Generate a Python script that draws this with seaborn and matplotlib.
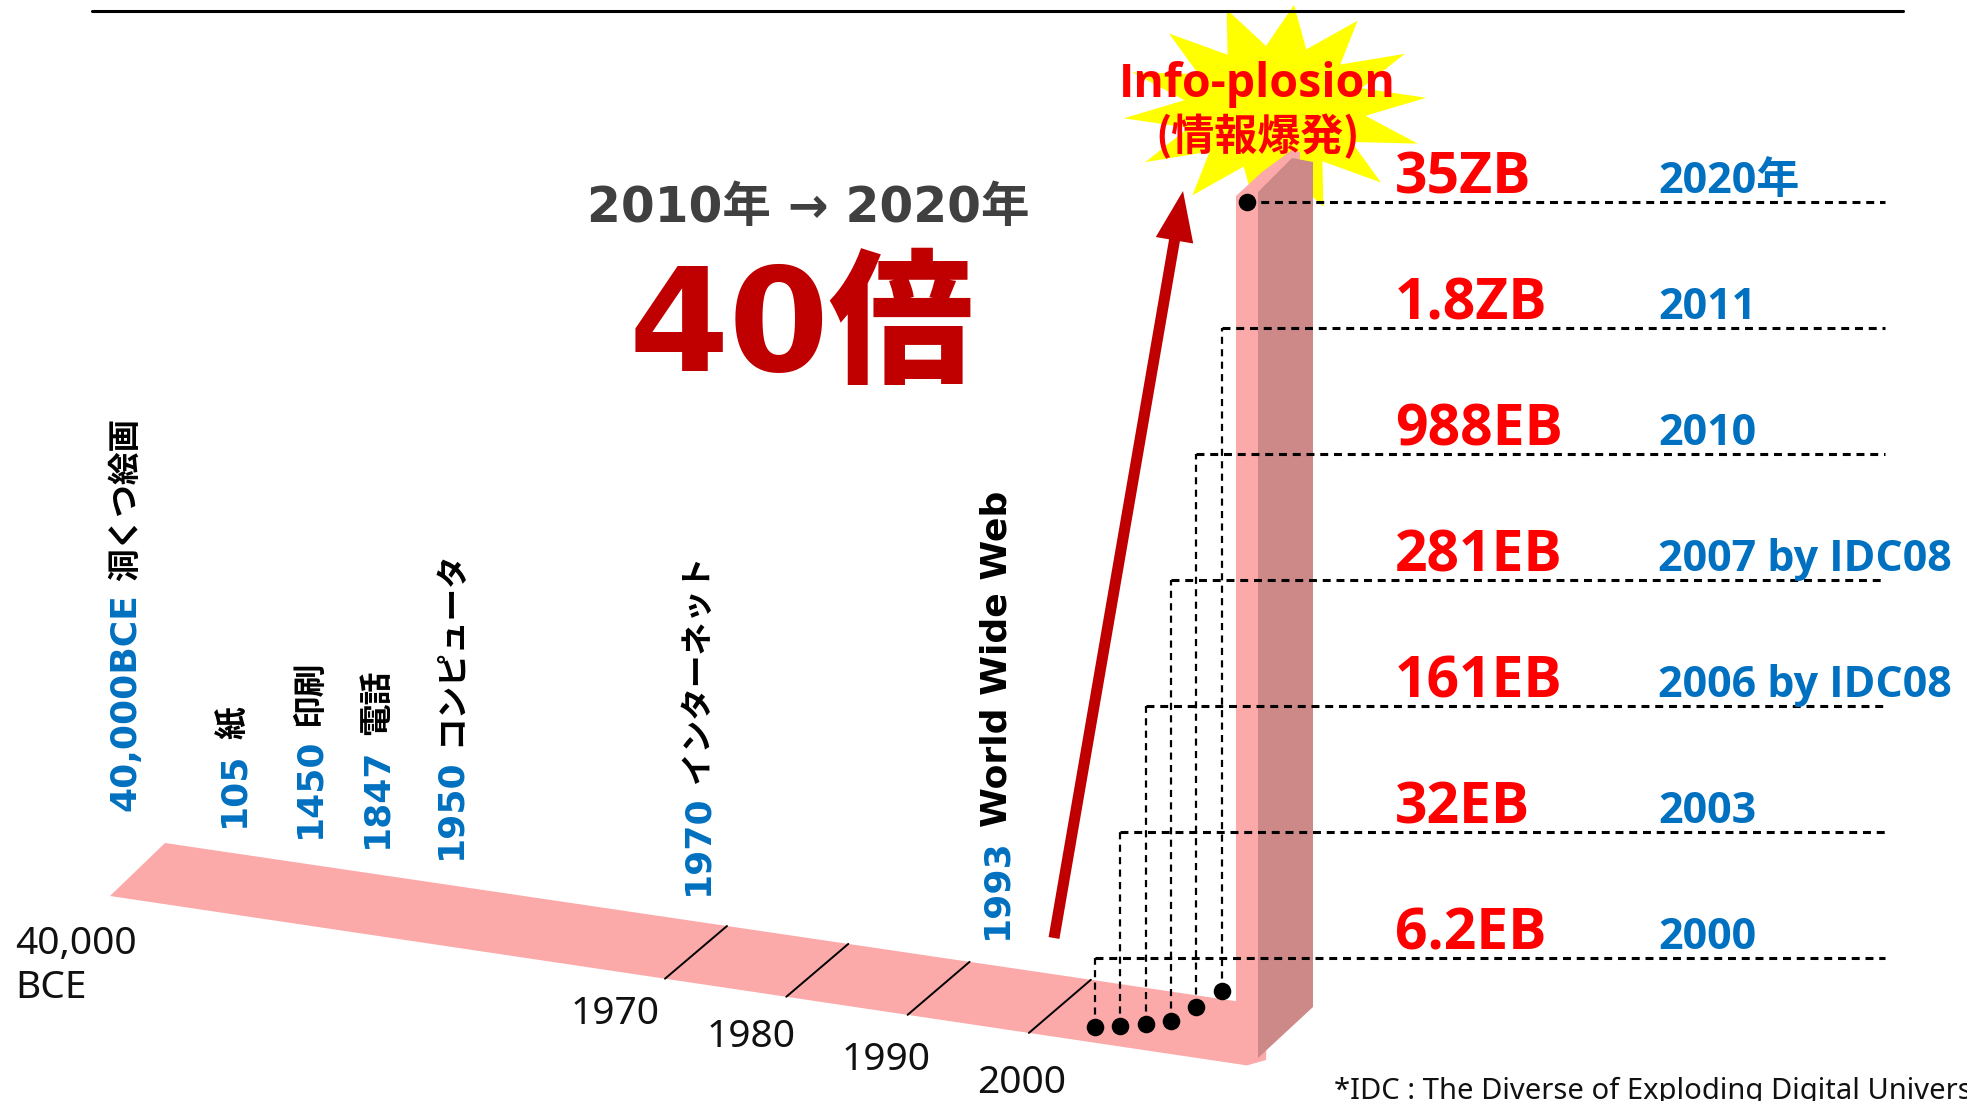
import numpy as np
import matplotlib
matplotlib.use("Agg")
import matplotlib.pyplot as plt
import seaborn as sns
import pandas as pd
from matplotlib.patches import Polygon, FancyArrow

# ---------------- data ----------------
event_years = ["40,000BCE", "105", "1450", "1847", "1950", "1970", "1993"]
event_year_num = [-40000, 105, 1450, 1847, 1950, 1970, 1993]
event_names = ["洞くつ絵画", "紙", "印刷", "電話", "コンピュータ", "インターネット", "World Wide Web"]
decade_ticks = [1970, 1980, 1990, 2000]
start_label = "40,000\nBCE"
data_years = ["2000", "2003", "2006 by IDC08", "2007 by IDC08", "2010", "2011", "2020年"]
data_values_eb = [6.2, 32, 161, 281, 988, 1800, 35000]
data_value_labels = ["6.2EB", "32EB", "161EB", "281EB", "988EB", "1.8ZB", "35ZB"]
headline_period = "2010年 → 2020年"
headline_factor = "40倍"
burst_title = "Info-plosion"
burst_sub = "(情報爆発)"
footnote = "*IDC : The Diverse of Exploding Digital Universe"

# ---------------- style ----------------
sns.set_theme(style="white")
plt.rcParams["font.family"] = ["Noto Sans", "Noto Sans CJK JP", "DejaVu Sans"]
VERDANA = ["DejaVu Sans", "Noto Sans CJK JP"]
NOTO = ["Noto Sans", "Noto Sans CJK JP"]
BOLDF = ["Open Sans", "Noto Sans CJK JP"]
CJK = ["Noto Sans CJK JP", "DejaVu Sans"]
BLUE = "#0070C0"
RED = "#FF0000"
DARKRED = "#C00000"
PINK = "#FCA9A9"
PINK_DARK = "#CD8888"

W, H = 1967, 1101
fig = plt.figure(figsize=(W / 100, H / 100), dpi=100)
ax = fig.add_axes([0, 0, 1, 1])
ax.set_xlim(0, W)
ax.set_ylim(H, 0)
ax.set_autoscale_on(False)
ax.axis("off")

# ---------------- layout scales ----------------
# broken timeline scale (year -> x of label column)
TL_YEARS = [-40000, 105, 1450, 1847, 1950, 1970, 2000]
TL_X = [122, 230, 306, 373, 447, 694, 1085]


def tl_x(year):
    return np.interp(year, TL_YEARS, TL_X)


def band_top(x):
    return 843 + (np.asarray(x) - 165) * 0.1477


def band_bot(x):
    return 896 + (np.asarray(x) - 110) * 0.149


def decade_x(year):
    return 665 + (np.asarray(year) - 1970) * 12.13


COL_X0, COL_X1, COL_X2 = 1236, 1258, 1313
X_RIGHT = 1885
LINE_BASE, LINE_STEP = 958, 126
DOT_X0, DOT_STEP = 1095, 25.3
DOT_BASE, DOT_K = 1027, 0.02

# ---------------- starburst (behind column) ----------------
n_sp = 14
ang = np.linspace(0, 2 * np.pi, 2 * n_sp, endpoint=False) + 0.35
rad = np.where(np.arange(2 * n_sp) % 2 == 0, 1.0, 0.6)
sx = 1275 + 152 * rad * np.cos(ang)
sy = 108 + 104 * rad * np.sin(ang)
ax.add_patch(Polygon(np.column_stack([sx, sy]), closed=True, fc="#FFFF00", ec="none", zorder=1))

# ---------------- floor band + column ----------------
floor_light = [(165, band_top(165)), (COL_X0, band_top(COL_X0)), (COL_X0, 196),
               (1262, 172), (1292, 150), (1300, 152), (1266, 1060), (1247, band_bot(1247)),
               (110, band_bot(110))]
ax.add_patch(Polygon(floor_light, closed=True, fc=PINK, ec="none", zorder=2))
col_dark = [(COL_X1, 1058), (COL_X1, 192), (1292, 158), (COL_X2, 162), (COL_X2, 1007)]
ax.add_patch(Polygon(col_dark, closed=True, fc=PINK_DARK, ec="none", zorder=2))

# decade ticks on the floor
for yr in decade_ticks:
    xb = decade_x(yr)
    xt = xb + 62
    ax.plot([xb, xt], [band_bot(xb), band_top(xt)], color="black", lw=1.4, zorder=3)
    d = yr - 1970
    ax.text(615 + d * 13.57, 1014 + d * 2.3, str(yr), ha="center", va="center",
            fontsize=28, family=NOTO, color="#111111", zorder=4)
ax.text(15, 966, start_label, ha="left", va="center", fontsize=28, family=NOTO,
        color="#111111", linespacing=1.2, zorder=4)

# ---------------- data points and leader lines ----------------
n = len(data_values_eb)
idx = np.arange(n)
line_y = LINE_BASE - idx * LINE_STEP
vals = np.array(data_values_eb)
dot_x = DOT_X0 + idx * DOT_STEP
dot_y = np.where(vals < 5000, DOT_BASE - vals * DOT_K, line_y)

for i in range(n):
    ax.plot([dot_x[i], X_RIGHT], [line_y[i], line_y[i]], color="black", lw=2.2,
            dashes=(2.6, 1.9), zorder=4)
    if dot_y[i] != line_y[i]:
        ax.plot([dot_x[i], dot_x[i]], [dot_y[i], line_y[i]], color="black", lw=1.6,
                dashes=(3.2, 2.4), zorder=4)
    ax.text(1395, line_y[i] - 8, data_value_labels[i], ha="left", va="baseline",
            fontsize=41, fontweight="bold", family=BOLDF, color=RED, zorder=5)
    ax.text(1658, line_y[i] - 9, data_years[i], ha="left", va="baseline",
            fontsize=31, fontweight="bold", family=BOLDF, color=BLUE, zorder=5)

df = pd.DataFrame({"x": dot_x, "y": dot_y})
sns.scatterplot(data=df, x="x", y="y", ax=ax, s=160, color="black", edgecolor="black",
                linewidth=0, zorder=6, legend=False)
ax.set_xlim(0, W)
ax.set_ylim(H, 0)
ax.axis("off")

# ---------------- arrow ----------------
ax.add_patch(FancyArrow(1054, 938, 1183 - 1054, 191 - 938, width=11, head_width=38,
                        head_length=50, length_includes_head=True, fc=DARKRED,
                        ec="none", zorder=5))

# ---------------- event labels (rotated) ----------------
fig.canvas.draw()
renderer = fig.canvas.get_renderer()
inv = ax.transData.inverted()
for yr_lbl, yr_num, name in zip(event_years, event_year_num, event_names):
    cx = tl_x(yr_num)
    bx = cx + 13
    by = float(band_top(cx)) - 26
    t1 = ax.text(bx, by, yr_lbl, rotation=90, rotation_mode="anchor", ha="left",
                 va="baseline", fontsize=26, fontweight="bold", family=VERDANA,
                 color=BLUE, zorder=5)
    bb = t1.get_window_extent(renderer)
    top = inv.transform((bb.x0, bb.y1))[1]
    is_cjk = any(ord(c) > 0x2E80 for c in name)
    ax.text(bx, top - 12, name, rotation=90, rotation_mode="anchor", ha="left",
            va="baseline", fontsize=23.5 if is_cjk else 26, fontweight="bold",
            family=CJK if is_cjk else VERDANA, color="black", zorder=5)

# ---------------- headline ----------------
ax.text(808, 208, headline_period, ha="center", va="center", fontsize=35,
        fontweight="bold", family=VERDANA, color="#404040", zorder=5)
ax.text(801, 331, headline_factor, ha="center", va="center", fontsize=104,
        fontweight=900, family=VERDANA, color=DARKRED, zorder=5)

# burst text
ax.text(1257, 85, burst_title, ha="center", va="center", fontsize=33.5,
        fontweight="bold", family=BOLDF, color=RED, zorder=6)
ax.text(1258, 137, burst_sub, ha="center", va="center", fontsize=31,
        fontweight="bold", family=CJK, color=RED, zorder=6)

# footnote
ax.text(1334, 1077, footnote, ha="left", va="top", fontsize=21, family=NOTO,
        color="#111111", zorder=5)

# top rule
ax.plot([92, 1903], [11, 11], color="black", lw=2.2, zorder=5)

fig.savefig("out.png", dpi=100, facecolor="white")
